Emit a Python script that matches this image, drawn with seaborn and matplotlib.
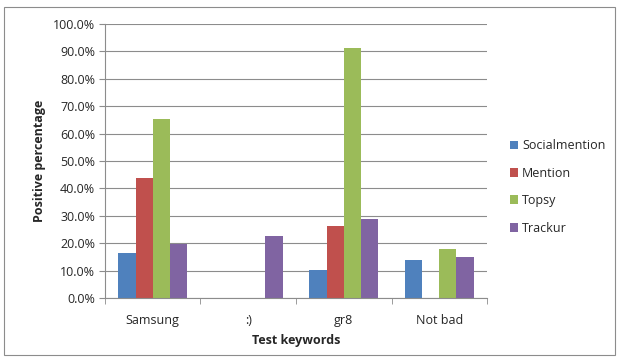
import pandas as pd
import seaborn as sns
import matplotlib.pyplot as plt
from matplotlib.ticker import PercentFormatter
from matplotlib.patches import Rectangle

sns.set_style('white')
plt.rcParams['font.family'] = ['Open Sans', 'DejaVu Sans']

# Data

keywords = ['Samsung', ':)', 'gr8', 'Not bad']
services = ['Socialmention', 'Mention', 'Topsy', 'Trackur']
socialmention = [0.163, 0.0, 0.103, 0.140]
mention = [0.439, 0.0, 0.262, 0.0]
topsy = [0.652, 0.0, 0.911, 0.180]
trackur = [0.198, 0.225, 0.289, 0.148]
colors = ['#4F81BD', '#C0504D', '#9BBB59', '#8064A2']

df = pd.DataFrame({'Keyword': keywords * 4,
                   'Service': sum([[s] * 4 for s in services], []),
                   'Value': socialmention + mention + topsy + trackur})

fig = plt.figure(figsize=(6.19, 3.61), dpi=100)
ax = fig.add_axes([0.1696, 0.1745, 0.6172, 0.759])

sns.barplot(data=df, x='Keyword', y='Value', hue='Service', palette=colors,
            width=0.72, gap=0, saturation=1, ax=ax, edgecolor='none')

ax.set_ylim(0, 1)
ax.set_xlim(-0.5, 3.5)
ax.set_yticks([i / 10 for i in range(11)])
ax.yaxis.set_major_formatter(PercentFormatter(1.0, decimals=1))
ax.yaxis.grid(True, color='#8c8c8c', linewidth=0.8)
ax.set_axisbelow(True)

for s in ['top', 'right']:
    ax.spines[s].set_visible(False)
ax.spines['left'].set_color('#8c8c8c')
ax.spines['bottom'].set_color('#8c8c8c')

ax.tick_params(axis='y', left=True, length=4, color='#8c8c8c', labelsize=9, pad=3)
ax.tick_params(axis='x', which='major', bottom=False, labelsize=9, pad=8)
ax.set_xticks([-0.5, 0.5, 1.5, 2.5, 3.5], minor=True)
ax.tick_params(axis='x', which='minor', bottom=True, length=4, color='#8c8c8c')

ax.set_xlabel('Test keywords', fontsize=9, fontweight='bold', labelpad=5)
ax.set_ylabel('Positive percentage', fontsize=9, fontweight='bold', labelpad=5)

leg = ax.legend(loc='center left', bbox_to_anchor=(1.03, 0.405), frameon=False,
                fontsize=9, handlelength=0.7, handleheight=0.7, handletextpad=0.3,
                labelspacing=1.15)

fig.patches.append(Rectangle((0.007, 0.017), 0.987, 0.963, transform=fig.transFigure,
                             fill=False, edgecolor='#8c8c8c', linewidth=0.8))

fig.savefig('out.png', dpi=100)
